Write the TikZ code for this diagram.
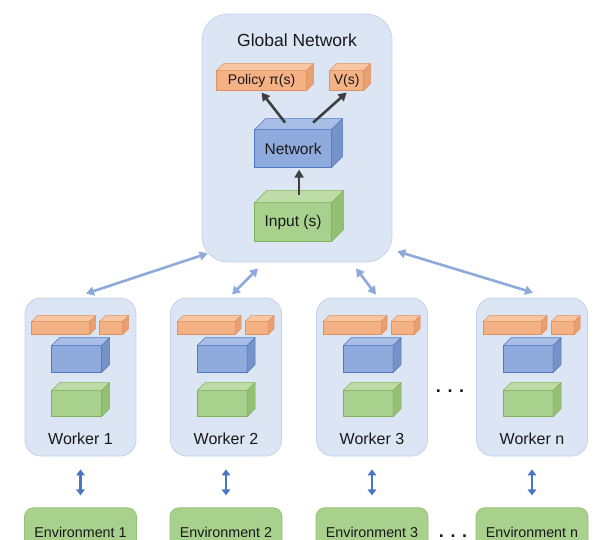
\documentclass[tikz,border=0pt]{standalone}
\usepackage{fontspec}
\setmainfont{Liberation Sans}
\usepackage{tikz}
\usetikzlibrary{arrows.meta,positioning}
\definecolor{panelfill}{HTML}{DCE5F4}
\definecolor{panelline}{HTML}{C3D2EA}
\definecolor{peachfront}{HTML}{F4B183}
\definecolor{peachtop}{HTML}{F8C6A3}
\definecolor{peachside}{HTML}{E9A070}
\definecolor{peachline}{HTML}{E0915E}
\definecolor{steelfront}{HTML}{8FAADC}
\definecolor{steeltop}{HTML}{A9BEE6}
\definecolor{steelside}{HTML}{7592C9}
\definecolor{steelline}{HTML}{4F78C4}
\definecolor{leaffront}{HTML}{A9D18E}
\definecolor{leaftop}{HTML}{BEDCA8}
\definecolor{leafside}{HTML}{93C174}
\definecolor{leafline}{HTML}{7DB35A}
\definecolor{linkblue}{HTML}{8EA9DB}
\definecolor{envblue}{HTML}{4A76C6}
\definecolor{inkgray}{HTML}{3F3F3F}
\newcommand{\cubefaces}[3]{%
  \filldraw[fill=#3top, draw=#3line, line width=0.6pt, line join=round]
    (#1.north west) -- ++(#2pt,#2pt) -- ([shift={(#2pt,#2pt)}]#1.north east)
    -- (#1.north east) -- cycle;
  \filldraw[fill=#3side, draw=#3line, line width=0.6pt, line join=round]
    (#1.north east) -- ++(#2pt,#2pt) -- ([shift={(#2pt,#2pt)}]#1.south east)
    -- (#1.south east) -- cycle;}

\begin{document}
\begin{tikzpicture}[x=1pt, y=-1pt,
    node distance=10pt,
    panel/.style={draw=panelline, line width=0.8pt, fill=panelfill},
    cube/.style={draw=#1line, fill=#1front, line width=0.6pt,
                 outer sep=0pt, inner sep=0pt, text=black!90},
    caption/.style={inner sep=0pt, text=black!90},
    envbox/.style={draw=leafline!50!leaffront, line width=0.8pt, fill=leaffront,
                   rounded corners=9pt, minimum width=112pt, minimum height=50pt,
                   inner sep=0pt, text=black!90, font=\fontsize{14.3}{17}\selectfont},
    link/.style={{Triangle[length=8pt,width=9pt]}-{Triangle[length=8pt,width=9pt]},
                 line width=2.6pt, draw=linkblue},
    envlink/.style={{Triangle[length=6pt,width=8.5pt]}-{Triangle[length=6pt,width=8.5pt]},
                    line width=2.6pt, draw=envblue, shorten <=13pt, shorten >=12pt},
    flow/.style={-{Triangle[length=8pt,width=9pt]}, line width=2.6pt, draw=inkgray}
]
    \useasboundingbox (0,0) rectangle (607,540);
    \clip (0,0) rectangle (607,540);

    \node[panel, rounded corners=26pt, minimum width=190pt, minimum height=248pt]
        (glob) at (297,138) {};
    \node[caption, font=\fontsize{17.5}{21}\selectfont, below=20pt of glob.north]
        (gtitle) {Global Network};
    \node[cube=peach, minimum width=90pt, minimum height=20pt,
          font=\fontsize{14}{16}\selectfont,
          below right=57pt and 15pt of glob.north west] (pol) {Policy π(s)};
    \node[cube=peach, minimum width=34pt, minimum height=20pt,
          font=\fontsize{14}{16}\selectfont, right=23pt of pol] (gv) {V(s)};
    \node[cube=steel, minimum width=77pt, minimum height=38pt,
          font=\fontsize{15.5}{18}\selectfont,
          below right=116pt and 53pt of glob.north west] (net) {Network};
    \node[cube=leaf, minimum width=77pt, minimum height=39pt,
          font=\fontsize{15.5}{18}\selectfont, below=35pt of net] (inp) {Input (s)};
    \cubefaces{pol}{7}{peach}
    \cubefaces{gv}{7}{peach}
    \cubefaces{net}{11}{steel}
    \cubefaces{inp}{12}{leaf}

    \draw[flow] ([shift={(-8pt,7pt)}]net.north) -- ([yshift=-2pt]pol.south);
    \draw[flow] ([shift={(20pt,7pt)}]net.north) -- ([yshift=-2pt]gv.south);
    \draw[flow] ([shift={(6pt,8pt)}]inp.north) -- ([shift={(6pt,-2pt)}]net.south);

    \foreach \i/\x/\lab in {1/80.5/1, 2/226/2, 3/372/3, 4/532/n} {
        \node[panel, rounded corners=16pt, minimum width=111pt, minimum height=158pt]
            (w\i) at (\x,377) {};
        \node[cube=peach, minimum width=58pt, minimum height=13pt,
              below right=24pt and 7pt of w\i.north west] (w\i-pol) {};
        \node[cube=peach, minimum width=23pt, minimum height=13pt,
              right=10pt of w\i-pol] (w\i-v) {};
        \node[cube=steel, minimum width=50pt, minimum height=27pt,
              below right=48pt and 27pt of w\i.north west] (w\i-net) {};
        \node[cube=leaf, minimum width=50pt, minimum height=26pt,
              below=18pt of w\i-net] (w\i-in) {};
        \cubefaces{w\i-pol}{6}{peach}
        \cubefaces{w\i-v}{6}{peach}
        \cubefaces{w\i-net}{8}{steel}
        \cubefaces{w\i-in}{8}{leaf}
        \node[caption, font=\fontsize{16}{19}\selectfont, above=12pt of w\i.south]
            (w\i-tag) {Worker \lab};
        \node[envbox, below=51pt of w\i] (e\i) {Environment \lab};
        \draw[envlink] (w\i) -- (e\i);
    }

    \node[caption, font=\fontsize{18}{21}\selectfont\bfseries] (wdots) at (450,391) {. . .};
    \node[caption, font=\fontsize{18}{21}\selectfont\bfseries] (edots) at (453,536) {. . .};

    \draw[link] ([shift={(6pt,9pt)}]glob.south west) -- ([shift={(5.5pt,4pt)}]w1.north);
    \draw[link] ([shift={(-39pt,-6pt)}]glob.south) -- ([shift={(6pt,3pt)}]w2.north);
    \draw[link] ([shift={(59pt,-6pt)}]glob.south) -- ([shift={(4pt,3pt)}]w3.north);
    \draw[link] ([shift={(5pt,11pt)}]glob.south east) -- ([shift={(1pt,5pt)}]w4.north);
\end{tikzpicture}
\end{document}
